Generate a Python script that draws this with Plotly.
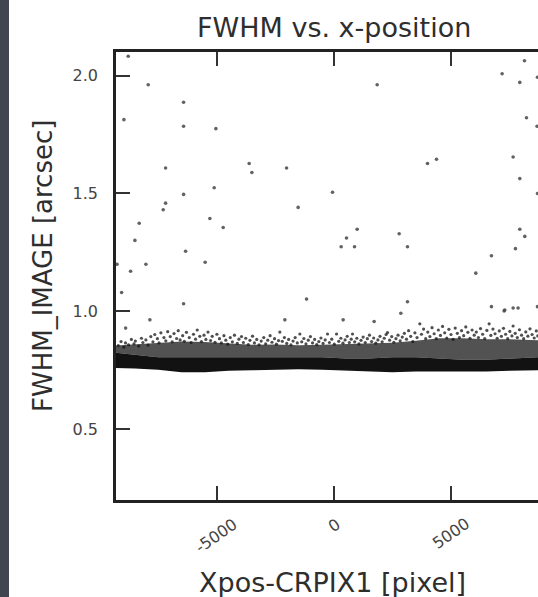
import plotly.graph_objects as go

# ---------------- data ----------------
# isolated outliers: x = Xpos-CRPIX1 [pixel], y = FWHM_IMAGE [arcsec]
out_x = [-8775, -7922, -6412, -8958, -6412, -5034, -7180, -3613, -3498, -2018,
         1848, 7180, 8135, 7935, 8220, 8673, 3997, 4381, 7650, 7935, 8690, 8690,
         -5106, -6412, -7180, -7282, -8306, -5290, -4722, -1523, -8489, -6326,
         -8020, -5490, -8673, -9250, -9057, -6412, -1165,
         -57, 995, 540, 313, 882, 2787, 3142, 7935, 8148, 7750, 6726, 6058,
         3142, 6726, 7295, 7862, 7650, 8690,
         -7850, -8886, -2090, 397, 1719, 2858, 7266]
out_y = [2.082, 1.961, 1.887, 1.813, 1.785, 1.775, 1.608, 1.627, 1.589, 1.608,
         1.961, 2.008, 2.063, 1.971, 1.821, 1.785, 1.627, 1.645, 1.655, 1.563, 1.993, 1.50,
         1.524, 1.496, 1.459, 1.431, 1.374, 1.394, 1.356, 1.441, 1.301, 1.255,
         1.200, 1.208, 1.170, 1.200, 1.080, 1.032, 1.052,
         1.505, 1.348, 1.311, 1.274, 1.274, 1.329, 1.274, 1.348, 1.318, 1.266, 1.236, 1.162,
         1.041, 1.020, 1.006, 1.014, 1.014, 1.020,
         0.964, 0.929, 0.964, 0.964, 0.957, 0.992, 1.002]

# sparse points on the upper edge of the main band
fringe_x = [-9200, -9080, -8960, -8890, -8760, -8640, -8530, -8470, -8330, -8210,
            -8150, -8020, -7930, -7810, -7720, -7640, -7530, -7460, -7380, -7250,
            -7170, -7090, -6980, -6900, -6820, -6710, -6640, -6560, -6450, -6380,
            -6290, -6170, -6090, -5990, -5900, -5830, -5720, -5650, -5540, -5460,
            -5370, -5260, -5190, -5070, -4990, -4880, -4800, -4690, -4610, -4530,
            -4420, -4330, -4240, -4120, -4050, -3940, -3860, -3760, -3650, -3580,
            -3470, -3390, -3290, -3190, -3100, -2990, -2910, -2820, -2720, -2640,
            -2530, -2450, -2360, -2304, -2200, -2110, -2010, -1930, -1830, -1740,
            -1650, -1560, -1450, -1370, -1280, -1190, -1090, -1000, -910, -820,
            -730, -640, -550, -460, -370, -270, -190, -90, 20, 115,
            210, 300, 390, 480, 570, 660, 740, 797, 890, 980,
            1070, 1160, 1250, 1340, 1430, 1520, 1610, 1700, 1790, 1880,
            1970, 2060, 2150, 2230, 2290, 2380, 2470, 2560, 2650, 2740,
            2830, 2920, 3010, 3100, 3190, 3280, 3370, 3460, 3550, 3669,
            3740, 3830, 3920, 4010, 4100, 4190, 4280, 4370, 4460, 4550,
            4640, 4730, 4820, 4910, 5000, 5090, 5180, 5270, 5360, 5450,
            5540, 5630, 5720, 5810, 5900, 5990, 6080, 6170, 6260, 6350,
            6440, 6530, 6626, 6700, 6790, 6880, 6970, 7060, 7150, 7240,
            7330, 7420, 7510, 7600, 7650, 7740, 7830, 7920, 8010, 8100,
            8190, 8280, 8370, 8460, 8550, 8640, 8700]
fringe_y = [0.855, 0.872, 0.848, 0.866, 0.858, 0.881, 0.862, 0.874, 0.853, 0.886,
            0.868, 0.879, 0.857, 0.893, 0.871, 0.902, 0.884, 0.866, 0.909, 0.889,
            0.875, 0.914, 0.893, 0.871, 0.906, 0.885, 0.918, 0.879, 0.897, 0.873,
            0.911, 0.889, 0.868, 0.903, 0.882, 0.921, 0.894, 0.872, 0.899, 0.881,
            0.912, 0.876, 0.894, 0.869, 0.903, 0.884, 0.866, 0.897, 0.878, 0.861,
            0.889, 0.871, 0.899, 0.864, 0.882, 0.893, 0.868, 0.886, 0.859, 0.877,
            0.895, 0.866, 0.881, 0.858, 0.874, 0.889, 0.862, 0.878, 0.897, 0.869,
            0.884, 0.861, 0.876, 0.912, 0.873, 0.889, 0.864, 0.881, 0.858, 0.874,
            0.889, 0.866, 0.904, 0.871, 0.885, 0.862, 0.878, 0.893, 0.866, 0.881,
            0.859, 0.872, 0.887, 0.864, 0.879, 0.904, 0.868, 0.882, 0.861, 0.904,
            0.873, 0.886, 0.865, 0.879, 0.894, 0.868, 0.882, 0.904, 0.871, 0.886,
            0.862, 0.877, 0.891, 0.868, 0.884, 0.899, 0.872, 0.887, 0.865, 0.879,
            0.894, 0.871, 0.886, 0.902, 0.910, 0.878, 0.893, 0.869, 0.884, 0.899,
            0.875, 0.891, 0.907, 0.882, 0.918, 0.894, 0.872, 0.909, 0.889, 0.947,
            0.903, 0.925, 0.884, 0.912, 0.893, 0.931, 0.905, 0.884, 0.921, 0.898,
            0.936, 0.909, 0.887, 0.924, 0.902, 0.881, 0.929, 0.907, 0.889, 0.918,
            0.897, 0.934, 0.911, 0.886, 0.921, 0.899, 0.912, 0.889, 0.927, 0.903,
            0.884, 0.919, 0.947, 0.898, 0.925, 0.905, 0.886, 0.917, 0.894, 0.928,
            0.903, 0.884, 0.915, 0.896, 0.938, 0.907, 0.889, 0.922, 0.899, 0.884,
            0.913, 0.895, 0.926, 0.902, 0.887, 0.917, 0.896]

# envelopes of the dense band (bottom, solid core top, loose top)
band_x = [-9300, -8500, -7500, -6500, -5500, -4500, -3500, -2500, -1500, -500,
          500, 1500, 2500, 3500, 4500, 5500, 6500, 7500, 8712]
band_low = [0.760, 0.758, 0.752, 0.742, 0.742, 0.748, 0.750, 0.752, 0.755, 0.752,
            0.748, 0.745, 0.742, 0.745, 0.745, 0.742, 0.745, 0.748, 0.750]
band_core = [0.825, 0.815, 0.805, 0.805, 0.805, 0.808, 0.805, 0.808, 0.805, 0.805,
             0.800, 0.800, 0.805, 0.805, 0.800, 0.795, 0.795, 0.800, 0.805]
band_top = [0.855, 0.860, 0.868, 0.872, 0.870, 0.863, 0.858, 0.860, 0.856, 0.858,
            0.860, 0.862, 0.867, 0.875, 0.886, 0.886, 0.882, 0.882, 0.878]

x_ticks = [-5000, 0, 5000]
x_tick_text = ["-5000", "0", "5000"]
y_ticks = [0.5, 1.0, 1.5, 2.0]
y_tick_text = ["0.5", "1.0", "1.5", "2.0"]

# ---------------- figure ----------------
W, H = 538, 597
ML, MR, MT, MB = 116, 0, 52, 97
PW, PH = W - ML - MR, H - MT - MB

fig = go.Figure()

fig.add_trace(go.Scatter(x=band_x, y=band_low, mode="lines", line=dict(width=0, color="black"),
                         hoverinfo="skip", showlegend=False))
fig.add_trace(go.Scatter(x=band_x, y=band_core, mode="lines", line=dict(width=0, color="black"),
                         fill="tonexty", fillcolor="rgba(0,0,0,0.93)", hoverinfo="skip", showlegend=False))
fig.add_trace(go.Scatter(x=band_x, y=band_top, mode="lines", line=dict(width=0, color="black"),
                         fill="tonexty", fillcolor="rgba(0,0,0,0.68)", hoverinfo="skip", showlegend=False))
fig.add_trace(go.Scatter(x=fringe_x, y=fringe_y, mode="markers",
                         marker=dict(size=3.2, color="rgba(20,20,20,0.75)", line=dict(width=0)),
                         showlegend=False))
fig.add_trace(go.Scatter(x=out_x, y=out_y, mode="markers",
                         marker=dict(size=3.6, color="rgba(70,70,70,0.85)", line=dict(width=0)),
                         showlegend=False))

tick_font = dict(family="DejaVu Sans", size=16, color="#444444")
big_font = dict(family="DejaVu Sans", size=27, color="#2e2e2e")

fig.update_xaxes(range=[-9296, 8712], tickmode="array", tickvals=x_ticks, ticktext=x_tick_text,
                 showticklabels=False, ticks="inside", ticklen=14, tickwidth=2,
                 tickcolor="#333333", showline=True, linecolor="#222222", linewidth=2.5,
                 mirror="ticks", showgrid=False, zeroline=False)
fig.update_yaxes(range=[0.2, 2.1], tickmode="array", tickvals=y_ticks, ticktext=y_tick_text,
                 tickfont=tick_font, ticks="inside", ticklen=14, tickwidth=2,
                 tickcolor="#333333", showline=True, linecolor="#222222", linewidth=2.5,
                 mirror=False, showgrid=False, zeroline=False, ticklabelstandoff=12)

# rotated x tick labels, centred under their ticks (matplotlib style)
for tv, tt in zip(x_ticks, x_tick_text):
    fig.add_annotation(text=tt, xref="x", yref="paper", x=tv, y=-(513 - (H - MB)) / PH,
                       xanchor="center", yanchor="top", textangle=-35, showarrow=False,
                       font=tick_font, borderpad=0)

fig.add_shape(type="rect", xref="paper", yref="paper",
              x0=-ML / PW, x1=(9 - ML) / PW, y0=-MB / PH - 0.01, y1=1 + MT / PH + 0.01,
              fillcolor="#41454f", line=dict(width=0), layer="below")

fig.add_annotation(text="FWHM vs. x-position", xref="paper", yref="paper",
                   x=(334 - ML) / PW, y=1 + (MT - 27) / PH, xanchor="center", yanchor="middle",
                   showarrow=False, font=big_font)
fig.add_annotation(text="Xpos-CRPIX1 [pixel]", xref="paper", yref="paper",
                   x=(332 - ML) / PW, y=-(582 - (H - MB)) / PH, xanchor="center", yanchor="middle",
                   showarrow=False, font=big_font)
fig.add_annotation(text="FWHM_IMAGE [arcsec]", xref="paper", yref="paper",
                   x=(43 - ML) / PW, y=((H - MB) - 266) / PH, xanchor="center", yanchor="middle",
                   textangle=-90, showarrow=False, font=dict(family="DejaVu Sans", size=26, color="#2e2e2e"))

fig.update_layout(width=W, height=H, margin=dict(l=ML, r=MR, t=MT, b=MB, pad=0),
                  paper_bgcolor="white", plot_bgcolor="white", showlegend=False)

fig.write_html("out.html")
